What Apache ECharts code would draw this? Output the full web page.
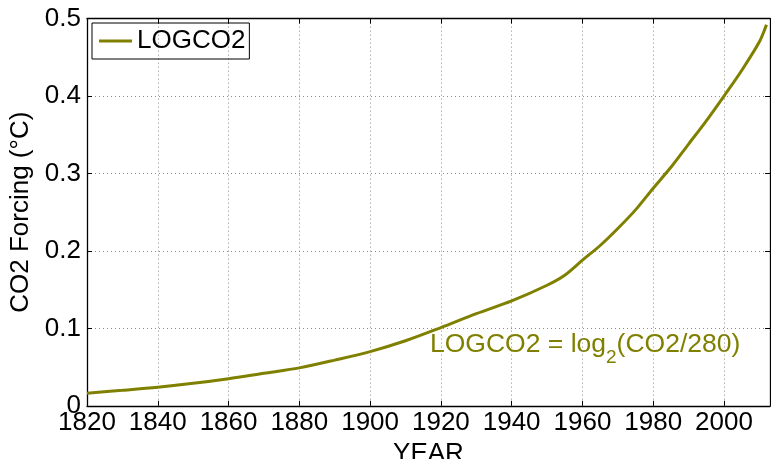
<!DOCTYPE html>
<html>
<head>
<meta charset="utf-8">
<script src="https://cdn.jsdelivr.net/npm/echarts@6/dist/echarts.min.js"></script>
<style>
html,body{margin:0;padding:0;background:#fff;}
#c{width:771px;height:459px;}
</style>
</head>
<body>
<div id="c"></div>
<script>
const years = [1820,1830,1840,1850,1860,1870,1880,1890,1900,1910,1920,1930,1940,1950,1955,1960,1965,1970,1975,1980,1985,1990,1995,2000,2005,2010,2012];
const logco2 = [0.0163,0.020,0.024,0.029,0.035,0.042,0.049,0.059,0.070,0.084,0.101,0.119,0.1355,0.1557,0.1686,0.188,0.207,0.229,0.253,0.281,0.308,0.338,0.368,0.400,0.433,0.470,0.492];
const seriesName = 'LOGCO2';
const xName = 'YEAR';
const yName = 'CO2 Forcing (°C)';
const FONT = '"Liberation Sans", Arial, sans-serif';
const OLIVE = '#808000';

const chart = echarts.init(document.getElementById('c'));
const data = years.map((y,i)=>[y, logco2[i]]);
const common = {
  type:'value',
  axisLine:{show:true, onZero:false, lineStyle:{color:'#000', width:1.3}},
  axisTick:{show:true, inside:true, length:5, lineStyle:{color:'#000'}},
};
chart.setOption({
  animation:false,
  grid:{left:87, right:1, top:18.6, bottom:53.2, containLabel:false, outerBoundsMode:'none'},
  legend:{
    left:92, top:23, orient:'horizontal',
    data:[{name:seriesName, icon:'rect'}],
    itemWidth:33, itemHeight:3,
    padding:[5,4,5,7],
    borderColor:'#000', borderWidth:1,
    textStyle:{fontFamily:FONT, fontSize:26, color:'#000'},
  },
  xAxis:[
    Object.assign({}, common, {
      position:'bottom', min:1820, max:2013, interval:20,
      name:xName, nameLocation:'middle', nameGap:28,
      nameTextStyle:{fontFamily:FONT, fontSize:26, color:'#000'},
      axisLabel:{fontFamily:FONT, fontSize:26, color:'#000', margin:4, showMaxLabel:false,
        formatter:v=> (v%20===0 ? String(v) : '')},
      splitLine:{show:true, lineStyle:{color:'#8a8a8a', type:[1,3], width:1}},
    }),
    Object.assign({}, common, {
      position:'top', min:1820, max:2013, interval:20,
      axisLabel:{show:false}, splitLine:{show:false}
    })
  ],
  yAxis:[
    Object.assign({}, common, {
      position:'left', min:0, max:0.5, interval:0.1,
      name:yName, nameLocation:'middle', nameGap:39, nameRotate:90,
      nameTextStyle:{fontFamily:FONT, fontSize:26, color:'#000'},
      axisLabel:{fontFamily:FONT, fontSize:26, color:'#000', margin:6},
      splitLine:{show:true, lineStyle:{color:'#8a8a8a', type:[1,3], width:1}},
    }),
    Object.assign({}, common, {
      position:'right', min:0, max:0.5, interval:0.1,
      axisLabel:{show:false}, splitLine:{show:false}
    })
  ],
  series:[{
    name:seriesName, type:'line', data:data, symbol:'none', smooth:0.3,
    lineStyle:{color:OLIVE, width:3}, itemStyle:{color:OLIVE},
    xAxisIndex:0, yAxisIndex:0
  }],
  graphic:[{
    type:'text', left:430, top:331,
    style:{
      text:'{a|LOGCO2 = log}{s|2}{a|(CO2/280)}',
      rich:{
        a:{fontFamily:FONT, fontSize:26.5, fill:OLIVE, lineHeight:36, verticalAlign:'top'},
        s:{fontFamily:FONT, fontSize:19, fill:OLIVE, lineHeight:36, verticalAlign:'bottom', padding:[15,0,0,0]}
      }
    }
  }]
});
</script>
</body>
</html>
